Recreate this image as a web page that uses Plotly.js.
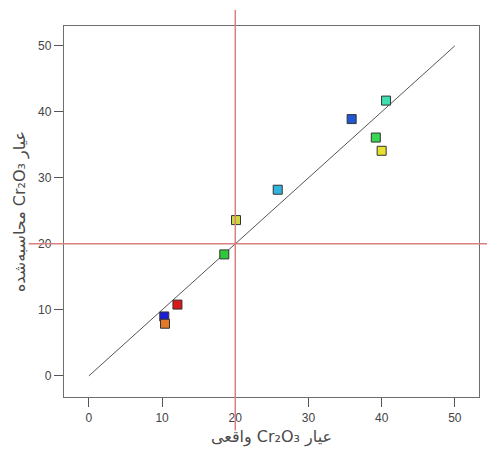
<!DOCTYPE html>
<html>
<head>
<meta charset="utf-8">
<script src="https://cdn.plot.ly/plotly-3.0.1.min.js"></script>
<style>html,body{margin:0;padding:0;background:#fff;}</style>
</head>
<body>
<div id="chart" style="width:487px;height:450px;"></div>
<script>
// Data
const actual    = [10.3, 10.4, 12.1, 18.5, 20.1, 25.8, 35.9, 40.6, 39.2, 40.0];
const predicted = [9.0, 7.9, 10.8, 18.4, 23.6, 28.2, 38.9, 41.7, 36.1, 34.1];
const pointColors = ['#1c1cd6', '#e07a2a', '#d81818', '#2ec83a', '#cdd83a', '#30b4e0', '#1f58d0', '#3ce0b0', '#38d850', '#e6e030'];
const diagX = [0, 50];
const diagY = [0, 50];
const refX = 20;
const refY = 20;
const tickVals = [0, 10, 20, 30, 40, 50];
const xTitle = 'عیار Cr₂O₃ واقعی';
const yTitle = 'عیار Cr₂O₃ محاسبه‌شده';

const xRange = [-3.4, 53.3];
const yRange = [-3.2, 53.0];

const xFrac = (refX - xRange[0]) / (xRange[1] - xRange[0]);
const yFrac = (refY - yRange[0]) / (yRange[1] - yRange[0]);
const rtl = s => '\u202B' + s + '\u202C';

const traces = [
  {
    x: diagX, y: diagY, mode: 'lines', type: 'scatter',
    line: {color: '#555555', width: 1}, hoverinfo: 'skip', showlegend: false
  },
  {
    x: actual, y: predicted, mode: 'markers', type: 'scatter',
    marker: {symbol: 'square', size: 9, color: pointColors, line: {color: '#333333', width: 1}},
    showlegend: false
  }
];

const axisCommon = {
  showgrid: false, zeroline: false, showline: true, mirror: true,
  linecolor: '#6e6e6e', linewidth: 1.2,
  ticks: 'outside', ticklen: 9, tickcolor: '#555555', tickwidth: 1,
  tickvals: tickVals, tickfont: {family: 'Liberation Sans, Arial, sans-serif', size: 12, color: '#444444'}
};

const titleFont = {family: 'DejaVu Sans, sans-serif', size: 16, color: '#4a4a4a'};

const layout = {
  width: 487, height: 450,
  margin: {l: 64, r: 8, t: 26, b: 53},
  paper_bgcolor: '#ffffff', plot_bgcolor: '#ffffff',
  xaxis: Object.assign({}, axisCommon, {
    range: xRange,
    title: {text: rtl(xTitle), standoff: 7, font: titleFont}
  }),
  yaxis: Object.assign({}, axisCommon, {
    range: yRange,
    title: {text: rtl(yTitle), standoff: 8, font: titleFont}
  }),
  shapes: [
    {type: 'line', xref: 'paper', yref: 'paper', x0: xFrac, x1: xFrac, y0: -0.09, y1: 1.043,
      line: {color: '#d98080', width: 1.5}, layer: 'above'},
    {type: 'line', xref: 'paper', yref: 'paper', x0: -0.085, x1: 1.03, y0: yFrac, y1: yFrac,
      line: {color: '#d98080', width: 1.5}, layer: 'above'}
  ]
};

Plotly.newPlot('chart', traces, layout, {displayModeBar: false, staticPlot: true});
</script>
</body>
</html>
